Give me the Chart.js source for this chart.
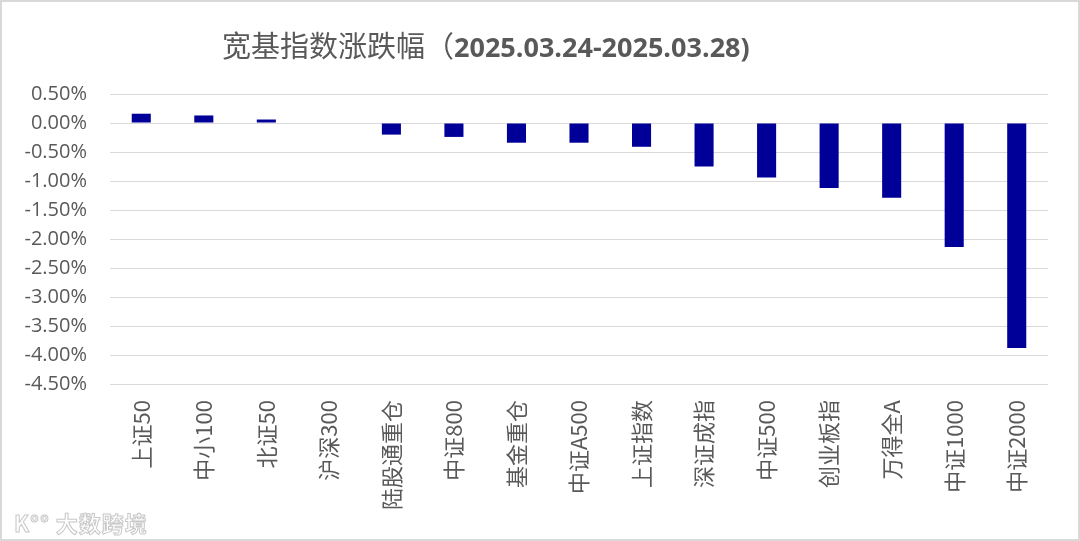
<!DOCTYPE html>
<html>
<head>
<meta charset="utf-8">
<script src="https://cdn.jsdelivr.net/npm/chart.js@4/dist/chart.umd.min.js"></script>
<style>
  html, body { margin: 0; padding: 0; background: #fff; }
  #wrap { position: relative; width: 1080px; height: 541px; overflow: hidden; }
  #frame { position: absolute; left: 0; top: 0; width: 1080px; height: 541px; box-sizing: border-box; border: 2px solid #d9d9d9; pointer-events: none; }
  #title { position: absolute; left: 222px; top: 24px; white-space: nowrap; color: #595959; line-height: 40px; }
  #title .cn { font-family: "Noto Sans CJK SC", sans-serif; font-size: 29px; font-weight: 400; }
  #title .num { font-family: "Open Sans", "Liberation Sans", sans-serif; font-size: 27px; font-weight: 700; }
  #wm { position: absolute; left: 14px; top: 506px; font-family: "Noto Sans CJK SC", sans-serif; font-size: 22px; font-weight: 700; color: #fff; -webkit-text-stroke: 1px #c8c8c8; letter-spacing: 1px; }
  canvas { position: absolute; left: 0; top: 0; }
</style>
</head>
<body>
<div id="wrap">
  <canvas id="c" width="1080" height="541"></canvas>
  <div id="title"><span class="cn">宽基指数涨跌幅（</span><span class="num">2025.03.24-2025.03.28)</span></div>
  <div id="wm">K°° 大数跨境</div>
  <div id="frame"></div>
</div>
<script>
const categories = ['上证50','中小100','北证50','沪深300','陆股通重仓','中证800','基金重仓','中证A500','上证指数','深证成指','中证500','创业板指','万得全A','中证1000','中证2000'];
const changes = [0.16, 0.13, 0.06, 0.00, -0.20, -0.24, -0.34, -0.34, -0.41, -0.75, -0.94, -1.12, -1.29, -2.14, -3.88];
const yMin = -4.5;
const yMax = 0.5;
const yStep = 0.5;

new Chart(document.getElementById('c'), {
  type: 'bar',
  data: {
    labels: categories,
    datasets: [{
      data: changes,
      backgroundColor: '#000099',
      borderWidth: 0,
      categoryPercentage: 1,
      barPercentage: 0.305
    }]
  },
  options: {
    responsive: false,
    devicePixelRatio: 1,
    animation: false,
    layout: { padding: { top: 94, right: 32, left: 0, bottom: 0 } },
    plugins: { legend: { display: false }, title: { display: false }, tooltip: { enabled: false } },
    scales: {
      x: {
        grid: { display: false, drawTicks: false },
        border: { display: false },
        ticks: {
          autoSkip: false, maxRotation: 90, minRotation: 90, padding: 16,
          color: '#595959',
          font: { family: '"Noto Sans CJK SC", sans-serif', size: 22 }
        },
        afterFit: (s) => { s.height = 157; }
      },
      y: {
        min: yMin, max: yMax,
        grid: { color: '#d9d9d9', lineWidth: 1, drawTicks: false },
        border: { display: false },
        ticks: {
          stepSize: yStep, padding: 23,
          color: '#595959',
          font: { family: '"Open Sans", sans-serif', size: 20 },
          callback: (v) => v.toFixed(2) + '%'
        },
        afterFit: (s) => { s.width = 110; }
      }
    }
  }
});
</script>
</body>
</html>
